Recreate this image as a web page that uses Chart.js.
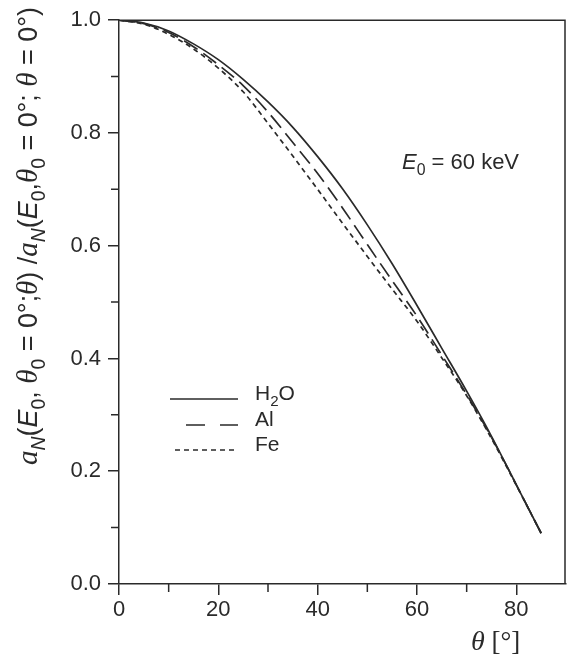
<!DOCTYPE html>
<html>
<head>
<meta charset="utf-8">
<script src="https://cdn.jsdelivr.net/npm/chart.js@4"></script>
<style>
  body { margin: 0; background: #fff; }
  #wrap { width: 568px; height: 657px; position: relative; }
</style>
</head>
<body>
<div id="wrap"><canvas id="myChart"></canvas></div>
<script>
// angulos theta (grados) y valores
const theta = [0, 5, 10, 15, 20, 25, 30, 35, 40, 45, 50, 55, 60, 65, 70, 75, 80, 85];
const h2o = [1.0, 0.995, 0.981, 0.958, 0.930, 0.895, 0.855, 0.810, 0.758, 0.701, 0.637, 0.568, 0.494, 0.418, 0.342, 0.262, 0.176, 0.090];
const al  = [1.0, 0.994, 0.978, 0.953, 0.921, 0.884, 0.837, 0.783, 0.728, 0.667, 0.602, 0.538, 0.475, 0.406, 0.336, 0.260, 0.176, 0.090];
const fe  = [1.0, 0.993, 0.975, 0.949, 0.915, 0.873, 0.817, 0.759, 0.700, 0.640, 0.581, 0.523, 0.466, 0.401, 0.334, 0.258, 0.175, 0.090];
const seriesNames = ['H2O', 'Al', 'Fe'];
const xTicks = [0, 20, 40, 60, 80];
const yTicks = [0.0, 0.2, 0.4, 0.6, 0.8, 1.0];

const ink = '#2a2a2a';
const sans = '"Liberation Sans", Arial, sans-serif';
const serif = '"Liberation Serif", "Times New Roman", serif';

function puntos(vals) {
  return theta.map((t, i) => ({ x: t, y: vals[i] }));
}

// dibuja texto con cursivas y subindices, devuelve el ancho
// estilos: 'i' cursiva sans, 'si' cursiva serif, 'sub' subindice
function richText(ctx, parts, size, draw) {
  let x = 0;
  parts.forEach(([t, st]) => {
    const flags = st.split(' ');
    const sub = flags.includes('sub');
    const fam = flags.includes('si') ? serif : sans;
    const it = (flags.includes('i') || flags.includes('si')) ? 'italic ' : '';
    const sz = sub ? size * 0.72 : (fam === serif ? size * 1.08 : size);
    ctx.font = it + sz + 'px ' + fam;
    if (draw) ctx.fillText(t, x, sub ? size * 0.28 : 0);
    x += ctx.measureText(t).width;
  });
  return x;
}

const yTitle = [
  ['a', 'si'], ['N', 'i sub'], ['(', ''], ['E', 'i'], ['0', 'sub'], [', ', ''], ['\u03B8', 'si'], ['0', 'sub'],
  [' = 0\u00B0;', ''], ['\u03B8', 'si'], [') /', ''], ['a', 'si'], ['N', 'i sub'], ['(', ''], ['E', 'i'], ['0', 'sub'],
  [',', ''], ['\u03B8', 'si'], ['0', 'sub'], [' = 0\u00B0; ', ''], ['\u03B8', 'si'], [' = 0\u00B0)', '']
];

const extras = {
  id: 'extras',
  afterDraw(chart) {
    const ctx = chart.ctx;
    const a = chart.chartArea;
    const xs = chart.scales.x, ys = chart.scales.y;
    ctx.save();
    ctx.strokeStyle = ink;
    ctx.fillStyle = ink;
    ctx.lineWidth = 1.5;
    // marco superior y derecho
    ctx.beginPath();
    ctx.moveTo(a.left, a.top);
    ctx.lineTo(a.right - 1, a.top);
    ctx.lineTo(a.right - 1, a.bottom);
    ctx.stroke();
    // marcas menores
    ctx.beginPath();
    [10, 30, 50, 70].forEach(v => {
      const px = xs.getPixelForValue(v);
      ctx.moveTo(px, a.bottom);
      ctx.lineTo(px, a.bottom + 8);
    });
    [0.1, 0.3, 0.5, 0.7, 0.9].forEach(v => {
      const py = ys.getPixelForValue(v);
      ctx.moveTo(a.left, py);
      ctx.lineTo(a.left - 8, py);
    });
    ctx.stroke();

    // leyenda
    const leg = [
      { dash: [], x0: 170, x1: 238, y: 399 },
      { dash: [19, 15], x0: 186, x1: 238, y: 425 },
      { dash: [5, 4], x0: 175, x1: 238, y: 450 }
    ];
    leg.forEach((l, i) => {
      ctx.setLineDash(l.dash);
      ctx.lineWidth = 1.6;
      ctx.beginPath();
      ctx.moveTo(l.x0, l.y);
      ctx.lineTo(l.x1, l.y);
      ctx.stroke();
      ctx.setLineDash([]);
      ctx.save();
      ctx.translate(255, l.y + 1);
      if (seriesNames[i] === 'H2O') {
        richText(ctx, [['H', ''], ['2', 'sub'], ['O', '']], 21, true);
      } else {
        richText(ctx, [[seriesNames[i], '']], 21, true);
      }
      ctx.restore();
    });

    // anotacion E0 = 60 keV
    ctx.save();
    ctx.translate(402, 169);
    richText(ctx, [['E', 'i'], ['0', 'sub'], [' = 60 keV', '']], 22, true);
    ctx.restore();

    // titulo eje x
    ctx.save();
    ctx.translate(471, 650);
    ctx.font = 'italic 28px ' + serif;
    ctx.fillText('\u03B8', 0, 0);
    const w = ctx.measureText('\u03B8').width;
    ctx.font = '27px ' + serif;
    ctx.fillText(' [\u00B0]', w, 0);
    ctx.restore();

    // titulo eje y
    ctx.save();
    ctx.translate(37, 236);
    ctx.rotate(-Math.PI / 2);
    let size = 20;
    const w0 = richText(ctx, yTitle, size, false);
    size = size * 458 / w0;
    const w1 = richText(ctx, yTitle, size, false);
    ctx.translate(-w1 / 2, 0);
    richText(ctx, yTitle, size, true);
    ctx.restore();

    ctx.restore();
  }
};

const ctx = document.getElementById('myChart').getContext('2d');
const myChart = new Chart(ctx, {
  type: 'line',
  data: {
    datasets: [
      { label: seriesNames[0], data: puntos(h2o), borderColor: ink, borderWidth: 1.7, borderDash: [] },
      { label: seriesNames[1], data: puntos(al), borderColor: ink, borderWidth: 1.7, borderDash: [16, 7] },
      { label: seriesNames[2], data: puntos(fe), borderColor: ink, borderWidth: 1.7, borderDash: [5, 4] }
    ]
  },
  options: {
    responsive: true,
    maintainAspectRatio: false,
    animation: false,
    layout: { padding: { top: 20, right: 0, left: 0, bottom: 0 } },
    elements: {
      point: { radius: 0 },
      line: { cubicInterpolationMode: 'monotone', fill: false }
    },
    plugins: { legend: { display: false }, tooltip: { enabled: false } },
    scales: {
      x: {
        type: 'linear',
        min: 0,
        max: 90,
        afterFit: s => { s.height = 73; },
        border: { color: ink, width: 1.5 },
        grid: {
          drawOnChartArea: false,
          drawTicks: true,
          tickLength: 11,
          lineWidth: 1.5,
          tickColor: c => (c.tick && xTicks.includes(c.tick.value)) ? ink : 'rgba(0,0,0,0)'
        },
        ticks: {
          stepSize: 10,
          padding: 2,
          color: ink,
          font: { family: sans, size: 22 },
          maxRotation: 0,
          autoSkip: false,
          callback: v => xTicks.includes(v) ? String(v) : ''
        }
      },
      y: {
        min: 0,
        max: 1,
        afterFit: s => { s.width = 119; },
        border: { color: ink, width: 1.5 },
        grid: {
          drawOnChartArea: false,
          drawTicks: true,
          tickLength: 11,
          lineWidth: 1.5,
          tickColor: c => (c.tick && yTicks.some(t => Math.abs(t - c.tick.value) < 1e-6)) ? ink : 'rgba(0,0,0,0)'
        },
        ticks: {
          stepSize: 0.1,
          padding: 7,
          color: ink,
          font: { family: sans, size: 22 },
          autoSkip: false,
          callback: v => yTicks.some(t => Math.abs(t - v) < 1e-6) ? v.toFixed(1) : ''
        }
      }
    }
  },
  plugins: [extras]
});
</script>
</body>
</html>
